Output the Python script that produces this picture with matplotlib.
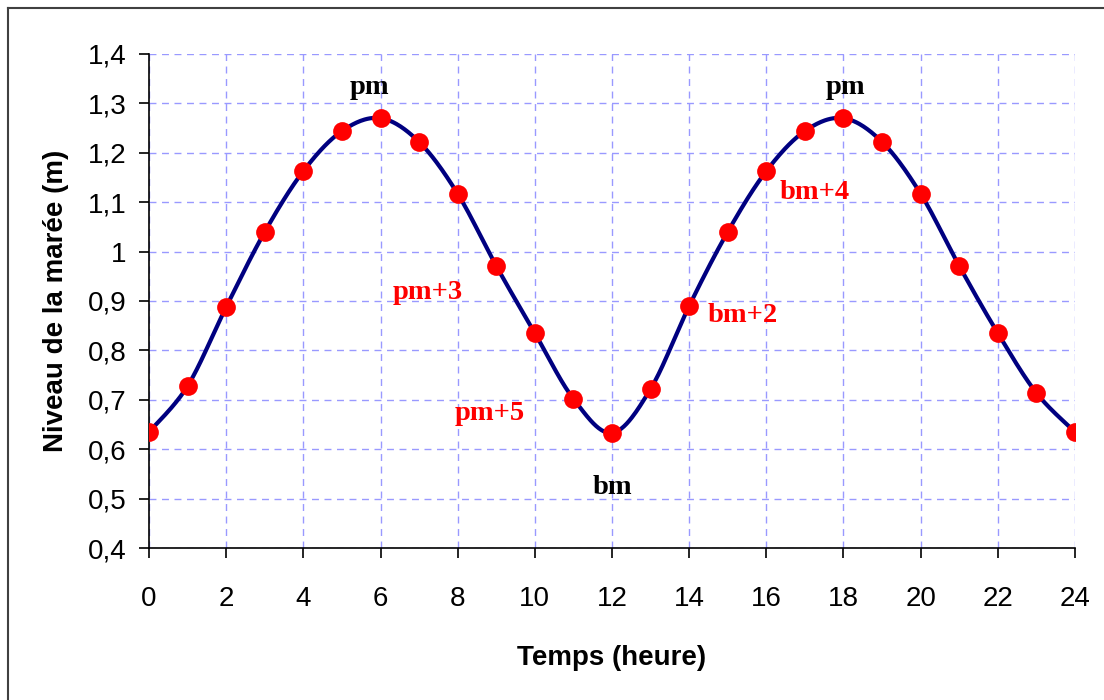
import numpy as np
import matplotlib
matplotlib.use("Agg")
import matplotlib.pyplot as plt
from matplotlib.ticker import FuncFormatter

# Tide level over 24 hours
hours = list(range(25))
levels = [0.635, 0.728, 0.888, 1.040, 1.163, 1.244, 1.270, 1.222, 1.117, 0.971,
          0.835, 0.702, 0.633, 0.722, 0.890, 1.040, 1.163, 1.244, 1.270, 1.222,
          1.117, 0.971, 0.835, 0.714, 0.635]

# Annotations: text, x, y, colour
labels = ["pm", "pm", "pm+3", "pm+5", "bm", "bm+2", "bm+4"]
label_x = [5.70, 18.04, 7.23, 8.84, 12.0, 15.4, 17.26]
label_y = [1.333, 1.333, 0.918, 0.673, 0.523, 0.870, 1.119]
label_col = ["black", "black", "red", "red", "black", "red", "red"]


def smooth_curve(x, y, n=30):
    """Catmull-Rom style smoothing (Bezier with 1/6 tangents)."""
    x = np.asarray(x, float)
    y = np.asarray(y, float)
    px = np.concatenate([[x[0]], x, [x[-1]]])
    py = np.concatenate([[y[0]], y, [y[-1]]])
    xs, ys = [], []
    t = np.linspace(0, 1, n)
    for i in range(1, len(px) - 2):
        p0 = np.array([px[i], py[i]])
        p3 = np.array([px[i + 1], py[i + 1]])
        p1 = p0 + (np.array([px[i + 1], py[i + 1]]) - np.array([px[i - 1], py[i - 1]])) / 6
        p2 = p3 - (np.array([px[i + 2], py[i + 2]]) - np.array([px[i], py[i]])) / 6
        b = ((1 - t) ** 3)[:, None] * p0 + (3 * (1 - t) ** 2 * t)[:, None] * p1 \
            + (3 * (1 - t) * t ** 2)[:, None] * p2 + (t ** 3)[:, None] * p3
        xs.extend(b[:, 0])
        ys.extend(b[:, 1])
    return np.array(xs), np.array(ys)


def fr_decimal(v, pos):
    s = f"{v:.1f}".replace(".", ",")
    return "1" if s == "1,0" else s


fig = plt.figure(figsize=(11.04, 7.0), dpi=100)
ax = fig.add_axes([0.135, 0.2171, 0.9737 - 0.135, 0.9229 - 0.2171])

# outer frame (top and left edges)
fig.add_artist(plt.Line2D([0.0075, 0.0075], [0.0, 0.988], transform=fig.transFigure,
                          color="#404040", lw=1.5))
fig.add_artist(plt.Line2D([0.0075, 1.0], [0.988, 0.988], transform=fig.transFigure,
                          color="#404040", lw=1.5))

sx, sy = smooth_curve(hours, levels)
ax.plot(sx, sy, color="#000080", lw=3, zorder=3)
ax.plot(hours, levels, "o", color="red", markersize=13.5, markeredgewidth=0, zorder=4)

for txt, x, y, c in zip(labels, label_x, label_y, label_col):
    ax.text(x, y, txt, color=c, fontsize=20.5, fontweight="bold",
            family="Liberation Serif", ha="center", va="center", zorder=5)

ax.set_xlim(0, 24)
ax.set_ylim(0.4, 1.4)
ax.set_xticks(range(0, 25, 2))
ax.set_yticks(np.arange(0.4, 1.41, 0.1))
ax.yaxis.set_major_formatter(FuncFormatter(fr_decimal))

ax.grid(True, color="#9999ff", linestyle=(0, (5, 4)), lw=1)
ax.set_axisbelow(True)
for s in ["top", "right"]:
    ax.spines[s].set_visible(False)
for s in ["left", "bottom"]:
    ax.spines[s].set_color("black")
    ax.spines[s].set_linewidth(1.2)

ax.tick_params(direction="out", length=7, width=1.2, labelsize=20)
ax.tick_params(axis="x", pad=20)
ax.tick_params(axis="y", pad=9)
for lab in ax.get_xticklabels() + ax.get_yticklabels():
    lab.set_family("Liberation Sans")

ax.set_xlabel("Temps (heure)", fontsize=20, fontweight="bold", family="Liberation Sans", labelpad=24)
ax.set_ylabel("Niveau de la marée (m)", fontsize=20, fontweight="bold", family="Liberation Sans", labelpad=14)

fig.savefig("out.png", dpi=100)
